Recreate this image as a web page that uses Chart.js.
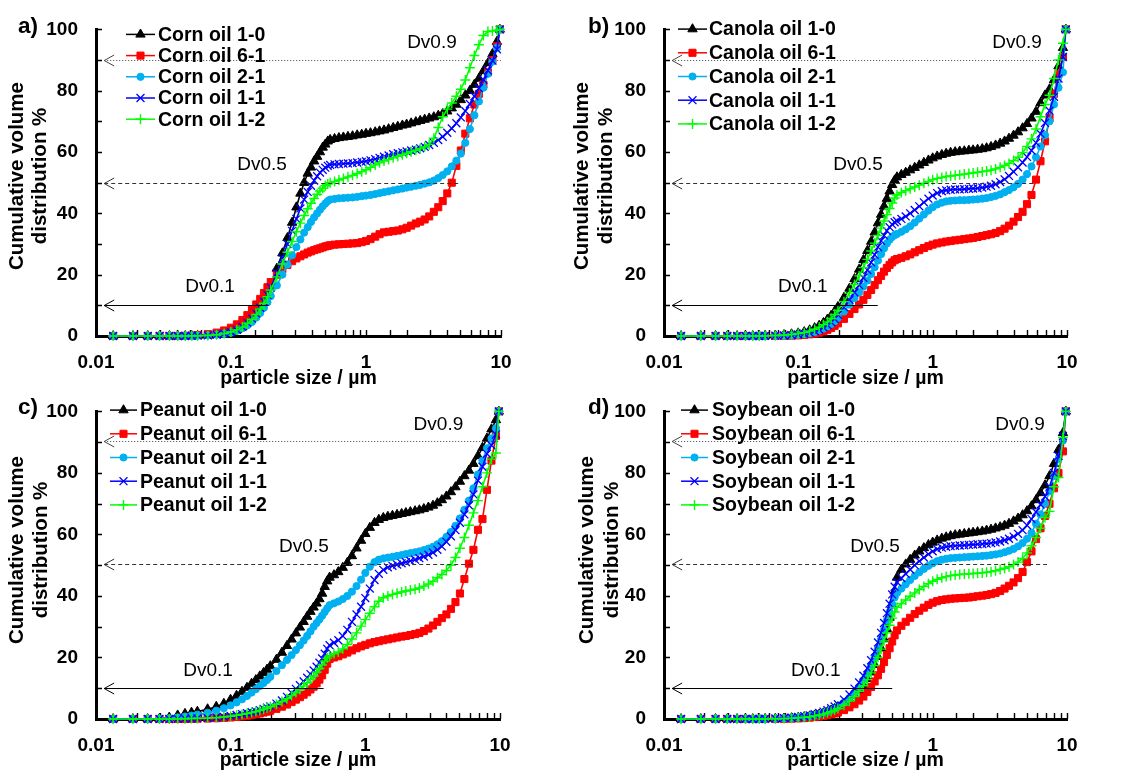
<!DOCTYPE html>
<html>
<head>
<meta charset="utf-8">
<title>Cumulative volume distribution of oil blends</title>
<script src="https://cdn.jsdelivr.net/npm/chart.js@4.4.1/dist/chart.umd.min.js"></script>
<style>
  html, body { margin: 0; padding: 0; background: #ffffff; }
  #wrap { position: relative; width: 1121px; height: 772px; overflow: hidden; background: #ffffff; }
  #wrap canvas { position: absolute; }
</style>
</head>
<body>
<div id="wrap">
  <canvas id="pa" width="560" height="390" style="left:0px;top:0px"></canvas>
  <canvas id="pb" width="561" height="390" style="left:560px;top:0px"></canvas>
  <canvas id="pc" width="560" height="390" style="left:0px;top:382px"></canvas>
  <canvas id="pd" width="561" height="390" style="left:560px;top:382px"></canvas>
</div>
<script>
// ---------- data ----------
// particle size classes, µm (shared by all measurements)
const sizes = [
  0.0134, 0.0188, 0.0242, 0.0296, 0.035, 0.0404, 0.0458, 0.0512, 0.0566,
  0.0674, 0.0782, 0.089, 0.0998, 0.1106, 0.1214, 0.1322, 0.143, 0.1538, 0.1646, 0.1754, 0.1862, 0.197,
  0.2186, 0.2402, 0.2618, 0.2834, 0.305, 0.3266, 0.3482, 0.3698, 0.3914, 0.413, 0.4346, 0.4562, 0.4778, 0.4994, 0.521, 0.5426,
  0.585, 0.63, 0.68, 0.735, 0.795, 0.86, 0.93, 1.0, 1.08, 1.17,
  1.26, 1.36, 1.47, 1.59, 1.72, 1.86, 2.0, 2.16, 2.34, 2.52,
  2.72, 2.94, 3.18, 3.43, 3.7, 4.0, 4.32, 4.67, 5.04, 5.44,
  5.88, 6.35, 6.86, 7.41, 8.0, 8.64, 9.33, 9.8
];

const oils = ['Corn oil', 'Canola oil', 'Peanut oil', 'Soybean oil'];
const ratios = ['1-0', '6-1', '2-1', '1-1', '1-2'];
const xTickValues = [0.01, 0.1, 1, 10];
const xTickLabels = ['0.01', '0.1', '1', '10'];
const yTickLabels = ['0', '20', '40', '60', '80', '100'];
const dvNames = ['Dv0.9', 'Dv0.5', 'Dv0.1'];

// cumulative volume distribution, %
const corn10 = [0, 0, 0, 0, 0, 0, 0, 0.05, 0.1,
  0.2, 0.4, 0.7, 1.2, 2, 3, 4.5, 6, 7.5, 9.5, 11.5, 14, 16.5,
  22, 27, 32, 37, 42, 46.5, 50, 53, 55, 57, 58.5, 60, 61.5, 62.5, 63.5, 64,
  64.3, 64.6, 64.8, 65, 65.2, 65.5, 65.7, 66, 66.2, 66.5,
  66.8, 67.1, 67.5, 67.9, 68.3, 68.7, 69, 69.4, 69.8, 70.2,
  70.6, 71, 71.4, 71.9, 72.5, 73.3, 74.3, 75.5, 77, 78.5,
  80, 82, 84, 86.5, 89, 92, 96, 100];
const corn61 = [0, 0, 0, 0, 0, 0, 0.05, 0.15, 0.3,
  0.6, 1.1, 1.8, 2.7, 3.8, 5.2, 6.8, 8.5, 10.3, 12.1, 14, 15.9, 17.6,
  20, 21.8, 23.2, 24.4, 25.3, 26, 26.6, 27.2, 27.6, 28, 28.3, 28.6, 28.9, 29.2, 29.4, 29.6,
  29.8, 29.9, 30, 30.1, 30.2, 30.3, 30.6, 31, 31.6, 32.4,
  33.2, 33.8, 34, 34.2, 34.4, 34.8, 35.3, 36, 36.7, 37.3,
  38, 39, 40.5, 42, 44, 46.5, 50, 55.5, 60.5, 66,
  71, 75.5, 79, 82, 86, 90, 94.5, 100];
const corn21 = [0, 0, 0, 0, 0, 0, 0, 0.05, 0.1,
  0.2, 0.4, 0.7, 1.1, 1.7, 2.5, 3.5, 4.6, 6, 7.5, 9.2, 11, 13,
  16.5, 20, 23.3, 26.3, 29, 31.5, 33.7, 35.5, 37.2, 38.7, 40, 41.2, 42.3, 43.2, 44, 44.5,
  44.7, 44.9, 45, 45.1, 45.2, 45.4, 45.6, 45.8, 46, 46.3,
  46.6, 46.9, 47.2, 47.5, 47.8, 48.1, 48.4, 48.7, 49, 49.3,
  49.7, 50.1, 50.7, 51.5, 52.5, 53.7, 55.3, 57.2, 59.5, 63,
  67.5, 72, 76.5, 81, 85.5, 89.5, 94, 100];
const corn11 = [0, 0, 0, 0, 0, 0, 0, 0.05, 0.1,
  0.2, 0.4, 0.8, 1.3, 2, 3, 4.3, 5.7, 7.3, 9.2, 11.2, 13.4, 15.8,
  20.5, 25.3, 30, 34.3, 38.2, 41.6, 44.5, 47, 49, 50.7, 52.1, 53.3, 54.2, 54.9, 55.5, 55.8,
  56, 56.1, 56.2, 56.3, 56.4, 56.6, 56.8, 57, 57.3, 57.7,
  58.1, 58.5, 58.9, 59.3, 59.6, 59.9, 60.2, 60.5, 60.8, 61.2,
  61.7, 62.3, 63, 63.9, 65, 66.3, 67.7, 69.4, 71.3, 73.4,
  75.7, 78.2, 80.8, 83.6, 86.6, 89.8, 93.5, 100];
const corn12 = [0, 0, 0, 0, 0, 0, 0, 0.05, 0.1,
  0.2, 0.4, 0.8, 1.3, 2, 2.9, 4.1, 5.4, 7, 8.8, 10.7, 12.8, 15,
  19.3, 23.5, 27.3, 30.8, 34, 36.8, 39.3, 41.5, 43.3, 44.9, 46.2, 47.3, 48.2, 49, 49.6, 50,
  50.4, 50.9, 51.4, 51.9, 52.4, 53, 53.6, 54.2, 55, 55.8,
  56.5, 57.1, 57.6, 58.1, 58.6, 59.1, 59.6, 60.1, 60.6, 61.1,
  61.7, 62.5, 64.5, 68, 71.5, 74, 76, 78.2, 80.5, 83.5,
  87.5, 91.5, 95, 98, 99.3, 99.5, 99.7, 100];

const canola10 = [0, 0, 0, 0, 0, 0, 0, 0, 0.1,
  0.2, 0.35, 0.6, 0.9, 1.3, 1.9, 2.6, 3.4, 4.3, 5.4, 6.6, 8, 9.5,
  12.5, 15.5, 18.6, 21.7, 24.8, 27.8, 30.8, 33.8, 36.8, 39.6, 42.3, 44.8, 47.2, 49.3, 50.8, 51.8,
  52.6, 53.3, 54.1, 54.9, 55.7, 56.5, 57.3, 58, 58.6, 59.1,
  59.5, 59.8, 60, 60.2, 60.3, 60.5, 60.6, 60.8, 61, 61.3,
  61.7, 62.2, 62.8, 63.5, 64.4, 65.4, 66.5, 67.8, 69.2, 71,
  73.2, 76, 78.5, 80.5, 83.5, 88, 94, 100];
const canola61 = [0, 0, 0, 0, 0, 0, 0, 0, 0,
  0, 0.05, 0.1, 0.2, 0.35, 0.55, 0.8, 1.1, 1.5, 2, 2.6, 3.3, 4.1,
  5.6, 7.2, 8.8, 10.3, 11.8, 13.4, 15, 16.6, 18.2, 19.6, 21, 22.2, 23.2, 24, 24.7, 25.1,
  25.5, 26, 26.6, 27.3, 28, 28.7, 29.3, 29.8, 30.2, 30.5,
  30.8, 31, 31.2, 31.4, 31.6, 31.8, 32, 32.3, 32.6, 32.9,
  33.2, 33.6, 34.2, 35, 36, 37.3, 38.8, 40.5, 43, 46,
  51, 57, 63.5, 71, 79, 85.5, 91, 100];
const canola21 = [0, 0, 0, 0, 0, 0, 0, 0, 0,
  0.05, 0.1, 0.2, 0.4, 0.6, 0.9, 1.3, 1.8, 2.4, 3.1, 3.9, 4.8, 5.9,
  8, 10.2, 12.3, 14.2, 16.1, 18.1, 20.2, 22.4, 24.6, 26.7, 28.6, 30.2, 31.4, 32.3, 32.9, 33.3,
  34, 34.8, 35.8, 37, 38.3, 39.6, 40.9, 42, 42.9, 43.5,
  43.9, 44.1, 44.2, 44.3, 44.3, 44.4, 44.5, 44.6, 44.8, 45,
  45.3, 45.7, 46.2, 46.9, 47.6, 48.5, 49.6, 51, 52.8, 55.3,
  58.3, 61.8, 65.5, 70, 75.5, 81, 86, 100];
const canola11 = [0, 0, 0, 0, 0, 0, 0, 0, 0.05,
  0.1, 0.15, 0.3, 0.5, 0.8, 1.1, 1.6, 2.1, 2.8, 3.6, 4.5, 5.6, 6.9,
  9.4, 11.8, 14.2, 16.6, 19, 21.5, 24, 26.5, 29, 31, 32.8, 34.3, 35.5, 36.4, 37.1, 37.5,
  38.2, 39, 40, 41.1, 42.3, 43.6, 44.8, 45.8, 46.6, 47.2,
  47.5, 47.7, 47.8, 47.8, 47.9, 48, 48.1, 48.2, 48.4, 48.7,
  49, 49.5, 50.2, 51.1, 52.2, 53.6, 55, 56.6, 58.4, 60.5,
  63, 66, 69.5, 73.5, 78, 84, 91, 100];
const canola12 = [0, 0, 0, 0, 0, 0, 0, 0, 0.05,
  0.15, 0.3, 0.5, 0.8, 1.1, 1.6, 2.2, 2.9, 3.7, 4.6, 5.7, 7, 8.4,
  11.2, 14, 16.8, 19.6, 22.3, 25, 27.7, 30.3, 32.8, 35.2, 37.5, 39.6, 41.6, 43.4, 45, 46,
  46.8, 47.4, 48, 48.6, 49.2, 49.8, 50.4, 51, 51.4, 51.7,
  52, 52.2, 52.4, 52.6, 52.8, 53, 53.2, 53.4, 53.6, 53.8,
  54.1, 54.5, 55, 55.6, 56.3, 57.2, 58.3, 59.8, 61.8, 64.3,
  67.5, 71.5, 75.5, 78.5, 84, 90, 95.5, 100];

const peanut10 = [0, 0, 0, 0.1, 0.5, 1.2, 1.7, 2.1, 2.4,
  3.2, 4, 5, 6.3, 7.6, 8.9, 10.2, 11.5, 12.7, 13.9, 15, 16.1, 17.2,
  19.3, 21.6, 23.8, 25.9, 27.9, 29.8, 31.6, 33.3, 34.9, 36.3, 37.6, 39, 40.8, 43, 44.8, 46,
  46.8, 47.8, 49.2, 50.8, 53, 55.5, 58, 60.2, 62.2, 63.8,
  64.8, 65.4, 65.8, 66.1, 66.4, 66.7, 67, 67.3, 67.6, 67.9,
  68.3, 68.8, 69.4, 70.2, 71.2, 72.4, 73.8, 75.4, 77.2, 79,
  80.8, 83, 85.5, 88.2, 91.2, 94.2, 97.2, 100];
const peanut61 = [0, 0, 0, 0, 0, 0, 0, 0.05, 0.1,
  0.15, 0.25, 0.35, 0.5, 0.65, 0.85, 1.05, 1.3, 1.55, 1.8, 2.1, 2.4, 2.7,
  3.3, 4, 4.7, 5.5, 6.3, 7.1, 7.9, 8.7, 9.6, 10.5, 11.6, 12.8, 14.2, 16, 18, 19.5,
  20, 20.4, 21, 21.6, 22.3, 23, 23.6, 24.1, 24.6, 25,
  25.3, 25.6, 25.9, 26.2, 26.5, 26.8, 27, 27.3, 27.6, 28,
  28.6, 29.4, 30.4, 31.6, 32.8, 34, 35.8, 38, 40.8, 45.5,
  50.5, 55, 61.5, 65, 74.5, 84, 92, 100];
const peanut21 = [0, 0, 0, 0.05, 0.2, 0.5, 0.8, 1.1, 1.4,
  2, 2.7, 3.5, 4.4, 5.4, 6.4, 7.5, 8.6, 9.7, 10.7, 11.7, 12.7, 13.7,
  15.6, 17.5, 19.2, 20.8, 22.4, 24, 25.5, 27, 28.5, 30, 31.2, 32.4, 33.6, 34.8, 36, 37,
  37.6, 38.2, 39, 40, 41.4, 43.2, 45.3, 47.5, 49.5, 51,
  51.8, 52.2, 52.5, 52.7, 53, 53.3, 53.6, 53.9, 54.2, 54.5,
  54.9, 55.4, 56, 56.8, 57.8, 59.2, 60.8, 62.8, 65.2, 68,
  71, 75, 79.5, 84, 88, 91.2, 94.5, 100];
const peanut11 = [0, 0, 0, 0, 0, 0.05, 0.1, 0.15, 0.2,
  0.3, 0.5, 0.7, 1, 1.3, 1.6, 1.9, 2.2, 2.5, 2.9, 3.3, 3.7, 4.1,
  5, 6, 7.2, 8.5, 9.8, 11, 12.2, 13.4, 14.6, 15.8, 17, 18.3, 19.7, 21.2, 22.8, 24,
  24.8, 25.6, 27, 29, 31.6, 34, 36.5, 39.3, 42.4, 45.2,
  47.2, 48.5, 49.3, 49.8, 50.2, 50.6, 51, 51.4, 51.8, 52.3,
  52.8, 53.4, 54.1, 55, 56.1, 57.6, 59.4, 61.4, 63.8, 66.5,
  69.5, 73, 77.5, 82, 86.2, 89, 92.5, 100];
const peanut12 = [0, 0, 0, 0, 0, 0.05, 0.1, 0.15, 0.2,
  0.3, 0.45, 0.65, 0.9, 1.2, 1.5, 1.8, 2.1, 2.4, 2.8, 3.2, 3.6, 4,
  4.8, 5.7, 6.6, 7.6, 8.6, 9.6, 10.7, 11.8, 12.9, 14, 15.2, 16.4, 17.6, 18.8, 19.8, 20.5,
  21.2, 21.8, 22.8, 24.2, 26, 28, 30.2, 32.3, 34.4, 36.5,
  38.3, 39.4, 40, 40.5, 40.9, 41.3, 41.6, 41.9, 42.2, 42.6,
  43.2, 43.9, 44.8, 45.9, 47, 48.3, 50, 52.5, 55.5, 59,
  63, 67, 71, 75.5, 80, 84.5, 86.5, 100];

const soy10 = [0, 0, 0, 0, 0, 0, 0, 0, 0.05,
  0.1, 0.2, 0.3, 0.45, 0.65, 0.9, 1.2, 1.5, 1.9, 2.3, 2.8, 3.3, 3.9,
  5, 6.3, 7.7, 9.3, 11, 13, 15.2, 17.6, 20.2, 23, 26, 29.3, 33, 37, 41.5, 46,
  48.6, 50.3, 51.8, 53.2, 54.5, 55.6, 56.6, 57.4, 58.1, 58.7,
  59.1, 59.5, 59.8, 60, 60.2, 60.4, 60.6, 60.8, 61, 61.3,
  61.6, 62, 62.4, 62.9, 63.5, 64.3, 65.2, 66.3, 67.6, 69.2,
  71.2, 73.5, 76, 79, 83, 87.5, 93, 100];
const soy61 = [0, 0, 0, 0, 0, 0, 0, 0, 0,
  0, 0.05, 0.1, 0.2, 0.3, 0.45, 0.6, 0.8, 1, 1.25, 1.5, 1.8, 2.1,
  2.9, 3.8, 4.8, 6, 7.3, 8.8, 10.4, 12.2, 14.2, 16.3, 18.5, 20.8, 23, 25.2, 27.2, 28.8,
  30.3, 31.6, 32.9, 34.1, 35.2, 36.2, 37.1, 37.8, 38.3, 38.7,
  38.9, 39.1, 39.2, 39.3, 39.4, 39.5, 39.7, 39.9, 40.1, 40.3,
  40.6, 41, 41.6, 42.4, 43.3, 44.4, 45.8, 47.8, 51, 54.5,
  58.5, 62, 66, 70, 75, 80, 87, 100];
const soy21 = [0, 0, 0, 0, 0, 0, 0, 0, 0,
  0.1, 0.2, 0.35, 0.5, 0.7, 0.95, 1.25, 1.6, 2, 2.4, 2.9, 3.4, 4,
  5.3, 6.8, 8.5, 10.4, 12.5, 14.8, 17.3, 20, 22.9, 25.9, 29, 32, 34.8, 37.3, 39.5, 41,
  42.4, 43.8, 45.2, 46.5, 47.7, 48.8, 49.8, 50.6, 51.3, 51.8,
  52.1, 52.3, 52.4, 52.5, 52.6, 52.7, 52.8, 52.9, 53, 53.1,
  53.3, 53.5, 53.8, 54.2, 54.7, 55.3, 56.1, 57.2, 58.6, 60.5,
  63.5, 66.5, 70, 74, 79, 84.5, 90.5, 100];
const soy11 = [0, 0, 0, 0, 0, 0, 0, 0, 0.05,
  0.15, 0.3, 0.45, 0.65, 0.9, 1.2, 1.55, 1.95, 2.4, 2.9, 3.5, 4.1, 4.8,
  6.3, 8, 9.9, 11.9, 14.1, 16.5, 19.1, 21.9, 24.9, 28, 31.2, 34.4, 37.5, 40.5, 43, 44.5,
  45.8, 47.2, 48.6, 50, 51.3, 52.5, 53.6, 54.5, 55.2, 55.7,
  56, 56.2, 56.3, 56.4, 56.5, 56.6, 56.7, 56.8, 56.9, 57,
  57.2, 57.4, 57.7, 58.1, 58.6, 59.3, 60.2, 61.4, 63, 65,
  67.3, 69.7, 72.3, 75.5, 80, 85.5, 92, 100];
const soy12 = [0, 0, 0, 0, 0, 0, 0, 0, 0,
  0.1, 0.15, 0.25, 0.4, 0.55, 0.75, 1, 1.3, 1.6, 2, 2.4, 2.9, 3.4,
  4.5, 5.8, 7.3, 9, 10.8, 12.8, 15, 17.4, 20, 22.7, 25.4, 28, 30.5, 32.8, 34.8, 36.3,
  37.5, 38.7, 39.9, 41, 42.1, 43.1, 44, 44.8, 45.4, 45.9,
  46.3, 46.6, 46.8, 47, 47.1, 47.2, 47.3, 47.4, 47.5, 47.7,
  47.9, 48.2, 48.6, 49, 49.5, 50.2, 51, 52.2, 54, 56.3,
  59, 62, 65.5, 67.5, 75.5, 78.5, 91.5, 100];

// Dv reference levels (%) and the particle size where each guide line stops
const cornDvLevels = [90, 50, 10];
const cornDvEnds = [10, 4.9, 0.19];
const canolaDvLevels = [90, 50, 10];
const canolaDvEnds = [10, 5.8, 0.39];
const peanutDvLevels = [90.3, 50.5, 10];
const peanutDvEnds = [10, 6.5, 0.49];
const soyDvLevels = [90.3, 50.5, 10];
const soyDvEnds = [10, 7.1, 0.5];

// ---------- styling ----------
const FONT = "'Liberation Sans', Arial, Helvetica, sans-serif";
Chart.defaults.font.family = FONT;
Chart.defaults.color = '#000';

const seriesStyles = [
  { color: '#000000', point: 'triangle', radius: 5.4, bw: 1 },
  { color: '#FF0000', point: 'rect', radius: 5, bw: 1 },
  { color: '#00B0F0', point: 'circle', radius: 3.6, bw: 1 },
  { color: '#0000FF', point: 'crossRot', radius: 5.6, bw: 1.3 },
  { color: '#00FF00', point: 'cross', radius: 5, bw: 1.4 }
];
const dvStyles = [
  { dash: [1, 2], color: '#444444' },
  { dash: [4, 3], color: '#333333' },
  { dash: [], color: '#000000' }
];
const ARROW_TIP = 0.0115;   // particle size at which the Dv arrows point

// per-panel layout (pixel boxes within each canvas, annotation anchors in data units)
const panels = [
  { id: 'pa', w: 560, h: 390, area: { l: 96, r: 501, t: 27, b: 336 }, tag: 'a)', tagX: 18, tagY: 27,
    yTitleX: [17.5, 40.5], yTitleY: 176, legend: { x0: 30, x1: 59, tx: 62, y0: 5, dy: 21.2 },
    oil: oils[0], series: [corn10, corn61, corn21, corn11, corn12],
    dvLevels: cornDvLevels, dvEnds: cornDvEnds,
    dvText: [[3.08, 95.6], [0.17, 55.7], [0.07, 16]] },
  { id: 'pb', w: 561, h: 390, area: { l: 104, r: 507, t: 27, b: 336 }, tag: 'b)', tagX: 28, tagY: 27,
    yTitleX: [22.5, 46], yTitleY: 176, legend: { x0: 14, x1: 43, tx: 45, y0: -0.3, dy: 23.7 },
    oil: oils[1], series: [canola10, canola61, canola21, canola11, canola12],
    dvLevels: canolaDvLevels, dvEnds: canolaDvEnds,
    dvText: [[4.25, 95.6], [0.278, 55.7], [0.108, 16]] },
  { id: 'pc', w: 560, h: 390, area: { l: 96, r: 500, t: 27, b: 337 }, tag: 'c)', tagX: 18, tagY: 26,
    yTitleX: [17.5, 41.5], yTitleY: 168, legend: { x0: 14, x1: 41, tx: 44, y0: -1.3, dy: 23.7 },
    oil: oils[2], series: [peanut10, peanut61, peanut21, peanut11, peanut12],
    dvLevels: peanutDvLevels, dvEnds: peanutDvEnds,
    dvText: [[3.49, 95.8], [0.35, 56.1], [0.068, 15.8]] },
  { id: 'pd', w: 561, h: 390, area: { l: 104, r: 507, t: 27, b: 337 }, tag: 'd)', tagX: 28, tagY: 26,
    yTitleX: [27.5, 52], yTitleY: 168, legend: { x0: 17, x1: 44, tx: 48, y0: -1.3, dy: 23.7 },
    oil: oils[3], series: [soy10, soy61, soy21, soy11, soy12],
    dvLevels: soyDvLevels, dvEnds: soyDvEnds,
    dvText: [[4.47, 95.8], [0.372, 56.1], [0.135, 15.8]] }
];

function isDecade(v) {
  const l = Math.log10(v);
  return Math.abs(l - Math.round(l)) < 1e-6;
}

function markerAt(ctx, ds, x, y) {
  ctx.fillStyle = ds.pointBackgroundColor;
  ctx.strokeStyle = ds.pointBorderColor;
  ctx.lineWidth = ds.pointBorderWidth;
  Chart.helpers.drawPoint(ctx, {
    pointStyle: ds.pointStyle, radius: ds.pointRadius, rotation: 0, borderWidth: ds.pointBorderWidth
  }, x, y);
}

// draws inward tick marks, Dv guide lines, legend, panel tag and the two-line y title
function decorations(p) {
  return {
    id: 'panelDecor',
    beforeDatasetsDraw(chart) {
      const { ctx, chartArea: ca, scales: { x, y } } = chart;
      ctx.save();
      ctx.strokeStyle = '#000';
      ctx.lineWidth = 1.4;
      ctx.beginPath();
      x.ticks.forEach(t => {
        const px = Math.round(x.getPixelForValue(t.value)) + 0.5;
        ctx.moveTo(px, ca.bottom);
        ctx.lineTo(px, ca.bottom - 6);
      });
      y.ticks.forEach(t => {
        const py = Math.round(y.getPixelForValue(t.value)) + 0.5;
        ctx.moveTo(ca.left, py);
        ctx.lineTo(ca.left + 6, py);
      });
      ctx.stroke();
      ctx.restore();
    },
    afterDatasetsDraw(chart) {
      const { ctx, chartArea: ca, scales: { x, y } } = chart;
      ctx.save();
      // Dv guide lines with open arrow heads
      p.dvLevels.forEach((lvl, i) => {
        const st = dvStyles[i];
        const py = Math.round(y.getPixelForValue(lvl)) + 0.5;
        const x0 = x.getPixelForValue(ARROW_TIP);
        const x1 = x.getPixelForValue(p.dvEnds[i]);
        ctx.strokeStyle = st.color;
        ctx.lineWidth = 1;
        ctx.setLineDash(st.dash);
        ctx.beginPath();
        ctx.moveTo(x0, py);
        ctx.lineTo(x1, py);
        ctx.stroke();
        ctx.setLineDash([]);
        ctx.beginPath();
        ctx.moveTo(x0 + 10, py - 5.5);
        ctx.lineTo(x0, py);
        ctx.lineTo(x0 + 10, py + 5.5);
        ctx.stroke();
        ctx.fillStyle = '#000';
        ctx.font = '19px ' + FONT;
        ctx.textAlign = 'center';
        ctx.textBaseline = 'middle';
        ctx.fillText(dvNames[i], x.getPixelForValue(p.dvText[i][0]), y.getPixelForValue(p.dvText[i][1]));
      });
      // legend: line + marker + label
      const lg = p.legend;
      chart.data.datasets.forEach((ds, i) => {
        const yy = ca.top + lg.y0 + i * lg.dy;
        ctx.strokeStyle = ds.borderColor;
        ctx.lineWidth = 1.5;
        ctx.beginPath();
        ctx.moveTo(ca.left + lg.x0, yy);
        ctx.lineTo(ca.left + lg.x1, yy);
        ctx.stroke();
        markerAt(ctx, ds, ca.left + (lg.x0 + lg.x1) / 2, yy);
        ctx.fillStyle = '#000';
        ctx.font = 'bold 19.5px ' + FONT;
        ctx.textAlign = 'left';
        ctx.textBaseline = 'middle';
        ctx.fillText(ds.label, ca.left + lg.tx, yy + 1);
      });
      // panel tag
      ctx.fillStyle = '#000';
      ctx.font = 'bold 22.5px ' + FONT;
      ctx.textAlign = 'left';
      ctx.textBaseline = 'middle';
      ctx.fillText(p.tag, p.tagX, p.tagY);
      // y axis title (two lines, rotated)
      ['Cumulative volume', 'distribution %'].forEach((line, i) => {
        ctx.save();
        ctx.translate(p.yTitleX[i], p.yTitleY);
        ctx.rotate(-Math.PI / 2);
        ctx.font = 'bold 20.5px ' + FONT;
        ctx.textAlign = 'center';
        ctx.textBaseline = 'middle';
        ctx.fillText(line, 0, 0);
        ctx.restore();
      });
      ctx.restore();
    }
  };
}

panels.forEach(p => {
  const datasets = p.series.map((arr, i) => {
    const st = seriesStyles[i];
    return {
      label: p.oil + ' ' + ratios[i],
      data: sizes.map((s, k) => ({ x: s, y: arr[k] })),
      borderColor: st.color,
      backgroundColor: st.color,
      borderWidth: 1.6,
      pointStyle: st.point,
      pointRadius: st.radius,
      pointHoverRadius: st.radius,
      pointBorderWidth: st.bw,
      pointBackgroundColor: st.color,
      pointBorderColor: st.color,
      tension: 0,
      fill: false,
      clip: false,
      order: ratios.length - 1 - i
    };
  });

  new Chart(document.getElementById(p.id), {
    type: 'line',
    data: { datasets },
    options: {
      responsive: false,
      animation: false,
      devicePixelRatio: 1,
      events: [],
      layout: { padding: { left: 0, top: p.area.t, right: p.w - p.area.r, bottom: 0 } },
      plugins: { legend: { display: false }, tooltip: { enabled: false } },
      scales: {
        x: {
          type: 'logarithmic',
          min: 0.01,
          max: 10,
          grid: { display: false, drawTicks: false },
          border: { display: true, color: '#000', width: 3 },
          ticks: {
            autoSkip: false,
            maxRotation: 0,
            padding: 15,
            color: '#000',
            font: { family: FONT, size: 19, weight: 'bold' },
            callback: v => {
              if (!isDecade(v)) return '';
              const k = xTickValues.findIndex(t => Math.abs(Math.log10(t) - Math.log10(v)) < 1e-6);
              return k >= 0 ? xTickLabels[k] : '';
            }
          },
          title: {
            display: true,
            text: 'particle size / µm',
            color: '#000',
            font: { family: FONT, size: 19.5, weight: 'bold' },
            padding: { top: 0, bottom: 0 }
          },
          afterFit: s => { s.height = p.h - p.area.b; }
        },
        y: {
          type: 'linear',
          min: 0,
          max: 100,
          grid: { display: false, drawTicks: false },
          border: { display: true, color: '#000', width: 3 },
          ticks: {
            stepSize: 10,
            padding: 18,
            color: '#000',
            font: { family: FONT, size: 19, weight: 'bold' },
            callback: v => (v % 20 === 0 ? yTickLabels[v / 20] : '')
          },
          afterFit: s => { s.width = p.area.l; }
        }
      }
    },
    plugins: [decorations(p)]
  });
});
</script>
</body>
</html>
